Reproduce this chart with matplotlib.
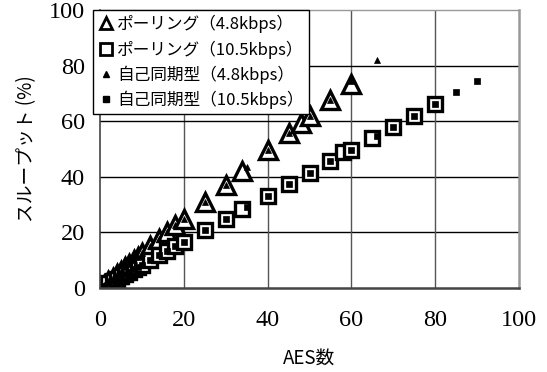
import matplotlib
matplotlib.use("Agg")
import matplotlib.pyplot as plt
from matplotlib import font_manager as fm
from matplotlib.lines import Line2D

# Polling (4.8kbps) - open triangles
poll48_x = [1, 2, 3, 4, 5, 6, 7, 8, 9, 10, 12, 14, 16, 18, 20, 25, 30, 34, 40, 45, 48, 50, 55, 60]
poll48_y = [1.2, 2.5, 3.7, 5.0, 6.2, 7.5, 8.8, 10.0, 11.2, 12.5, 15.0, 17.5, 20.0, 22.5, 25.0,
            31.0, 37.0, 42.0, 49.5, 55.8, 59.3, 62.0, 67.8, 73.5]

# Polling (10.5kbps) - open squares
poll105_x = [1, 2, 3, 4, 5, 6, 7, 8, 9, 10, 12, 14, 16, 18, 20, 25, 30, 34, 40, 45, 50, 55, 58, 60,
             65, 70, 75, 80]
poll105_y = [0.8, 1.7, 2.5, 3.3, 4.2, 5.0, 5.8, 6.7, 7.5, 8.3, 10.0, 11.7, 13.3, 15.0, 16.7,
             21.0, 25.0, 28.3, 33.2, 37.3, 41.3, 45.6, 48.8, 49.8, 53.8, 57.8, 62.0, 66.2]

# Self-synchronous (4.8kbps) - small filled triangles
self48_x = [1, 2, 3, 4, 5, 6, 7, 8, 9, 10, 12, 14, 16, 18, 20, 25, 30, 35, 40, 45, 50, 55, 60, 66]
self48_y = [1.2, 2.5, 3.7, 5.0, 6.2, 7.5, 8.8, 10.0, 11.2, 12.5, 15.0, 17.5, 20.0, 22.5, 25.0,
            31.0, 37.0, 43.5, 49.5, 55.8, 62.0, 67.8, 74.5, 82.0]

# Self-synchronous (10.5kbps) - small filled squares
self105_x = [1, 2, 3, 4, 5, 6, 7, 8, 9, 10, 12, 14, 16, 18, 20, 25, 30, 35, 40, 45, 50, 55, 60,
             66, 70, 75, 80, 85, 90]
self105_y = [0.8, 1.7, 2.5, 3.3, 4.2, 5.0, 5.8, 6.7, 7.5, 8.3, 10.0, 11.7, 13.3, 15.0, 16.7,
             21.0, 25.0, 29.3, 33.2, 37.3, 41.3, 45.6, 49.8, 54.8, 57.8, 62.0, 66.2, 70.4, 74.3]

labels = ["ポーリング（4.8kbps）", "ポーリング（10.5kbps）", "自己同期型（4.8kbps）", "自己同期型（10.5kbps）"]
xticks = [0, 20, 40, 60, 80, 100]
yticks = [0, 20, 40, 60, 80, 100]

jp = ["Noto Sans CJK JP", "DejaVu Sans"]
plt.rcParams["font.family"] = "serif"
plt.rcParams["font.serif"] = ["Liberation Serif", "Times New Roman", "DejaVu Serif"]

fig = plt.figure(figsize=(5.47, 3.72), dpi=100)
ax = fig.add_axes([100/547, 1-288/372, 419/547, 278/372])

ax.plot(poll48_x, poll48_y, ls="none", marker="^", ms=13, mfc="white", mec="black", mew=2.4, zorder=3)
ax.plot(poll105_x, poll105_y, ls="none", marker="s", ms=10, mfc="white", mec="black", mew=2.4, zorder=3)
ax.plot(self48_x, self48_y, ls="none", marker="^", ms=4.8, mfc="black", mec="black", mew=0.5, zorder=4)
ax.plot(self105_x, self105_y, ls="none", marker="s", ms=4.0, mfc="black", mec="black", mew=0.5, zorder=4)

ax.set_xlim(0, 100)
ax.set_ylim(0, 100)
serif_fp = fm.FontProperties(family=["Liberation Serif", "DejaVu Serif"], size=17.5)
ax.set_xticks(xticks)
ax.set_xticklabels([str(v) for v in xticks], fontproperties=serif_fp)
ax.set_yticks(yticks)
ax.set_yticklabels([str(v) for v in yticks], fontproperties=serif_fp)
ax.tick_params(length=0)
ax.tick_params(axis="y", pad=11)
ax.tick_params(axis="x", pad=16)

for v in [20, 40, 60, 80]:
    ax.axhline(v, color="black", lw=1.0, zorder=1)
    ax.axvline(v, color="#555555", lw=1.0, zorder=1)

ax.spines["left"].set_color("#444444")
ax.spines["left"].set_linewidth(1.2)
ax.spines["bottom"].set_color("#444444")
ax.spines["bottom"].set_linewidth(1.8)
ax.spines["right"].set_color("#999999")
ax.spines["right"].set_linewidth(1.8)
ax.spines["top"].set_color("#999999")
ax.spines["top"].set_linewidth(1.0)
for s in ax.spines.values():
    s.set_zorder(5)

ax.set_xlabel("AES数", fontsize=13.5, family=jp, labelpad=12)
ax.set_ylabel("スループット (%)", fontsize=13.5, family=jp, labelpad=8)

handles = [
    Line2D([], [], ls="none", marker="^", ms=8.5, mfc="white", mec="black", mew=2),
    Line2D([], [], ls="none", marker="s", ms=8, mfc="white", mec="black", mew=2),
    Line2D([], [], ls="none", marker="^", ms=5, mfc="black", mec="black"),
    Line2D([], [], ls="none", marker="s", ms=4.5, mfc="black", mec="black"),
]
leg = fig.legend(handles, labels, loc="upper left", bbox_to_anchor=(93/547, 1-10/372),
                 bbox_transform=fig.transFigure, borderaxespad=0, fancybox=False,
                 framealpha=1, edgecolor="black", handlelength=0.9, handletextpad=0.25,
                 borderpad=0.3, labelspacing=0.42, prop={"family": jp, "size": 12})
leg.get_frame().set_linewidth(1.0)
leg.set_zorder(10)

fig.savefig("out.png", dpi=100)
